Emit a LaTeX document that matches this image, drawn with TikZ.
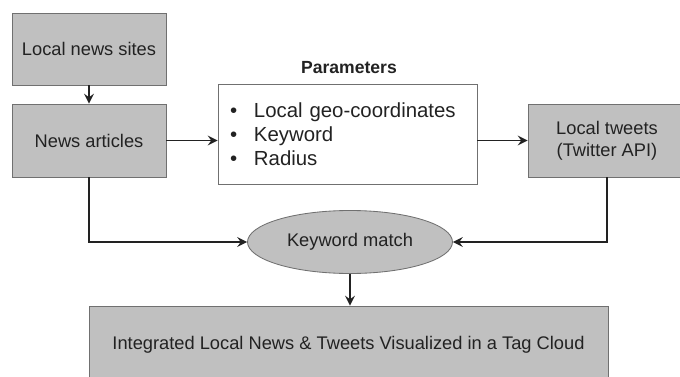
\documentclass[tikz,border=0pt]{standalone}
\usepackage{fontspec}
\setmainfont{Liberation Sans}
\usetikzlibrary{arrows.meta,shapes.geometric}
\definecolor{gris}{RGB}{192,192,192}
\definecolor{bord}{RGB}{112,112,112}
\definecolor{encre}{RGB}{34,34,34}

\begin{document}
\begin{tikzpicture}
\tikzset{boite/.style={draw=bord, fill=gris, line width=0.6pt, inner sep=0pt, align=center, text=encre, font=\fontsize{13}{15.5}\selectfont},
fleche/.style={-{Stealth[length=7pt, width=7pt, inset=2.5pt]}, line width=1.2pt, draw=encre}}
\clip (0, 0) rectangle (17, 9.4);
\node[boite, minimum width=3.85cm, minimum height=1.8cm] (B1) at (2.225, 8.175) {Local news sites};
\node[boite, minimum width=3.85cm, minimum height=1.825cm] (B2) at (2.225, 5.8875) {News articles};
\node[draw=bord, line width=0.6pt, text=encre, minimum width=6.475cm, minimum height=2.5cm, text width=5.875cm, inner xsep=0.3cm, align=left, font=\fontsize{14.5}{17}\selectfont] (B3) at (8.6875, 6.05)
  {\makebox[0.6cm][l]{\textbullet}Local geo-coordinates\\ \makebox[0.6cm][l]{\textbullet}Keyword\\ \makebox[0.6cm][l]{\textbullet}Radius};
\node[text=encre, font=\bfseries\fontsize{12.5}{15}\selectfont] (B0) at (8.725, 7.7) {Parameters};
\node[boite, minimum width=3.95cm, minimum height=1.825cm] (B4) at (15.175, 5.8875) {Local tweets\\(Twitter API)};
\node[boite, ellipse, minimum width=5.125cm, minimum height=1.575cm] (B5) at (8.75, 3.35) {Keyword match};
\node[boite, minimum width=12.975cm, minimum height=1.95cm] (B6) at (8.7125, 0.775) {Integrated Local News \& Tweets Visualized in a Tag Cloud};
\draw[fleche] (B1) -- (B2);
\draw[fleche] (B2.east) -- (B2.east -| B3.west);
\draw[fleche] (B3.east |- B4.west) -- (B4.west);
\draw[fleche] (B2.south) |- (B5.west);
\draw[fleche] (B4.south) |- (B5.east);
\draw[fleche] (B5.south) -- (B5.south |- B6.north);
\end{tikzpicture}
\end{document}
